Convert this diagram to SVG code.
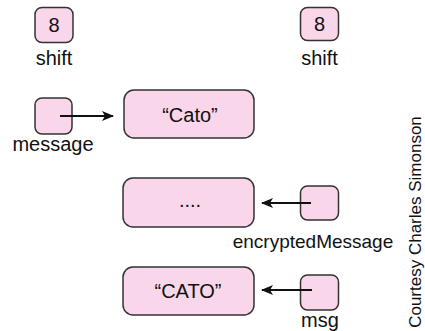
<svg xmlns="http://www.w3.org/2000/svg" width="425" height="331" viewBox="0 0 425 331">
<style>
.box{fill:#f9d6ea;stroke:#333;stroke-width:1.5}
.t{font-family:"Liberation Sans",Arial,sans-serif;font-size:20px;fill:#111;text-anchor:middle}
.c{stroke:#111;stroke-width:2;fill:none}
</style>
<defs>
<marker id="ah" viewBox="0 0 12 10" refX="11" refY="5" markerWidth="12" markerHeight="10" markerUnits="userSpaceOnUse" orient="auto">
<path d="M0,0 L12,5 L0,10 L3,5 Z" fill="#111"/>
</marker>
</defs>
<g id="shift1">
<rect class="box" x="35" y="7.5" width="38" height="35" rx="7"/>
<text class="t" x="54" y="32">8</text>
<text class="t" x="54" y="65">shift</text>
</g>
<g id="shift2">
<rect class="box" x="300.5" y="7.5" width="38" height="33" rx="7"/>
<text class="t" x="319.5" y="31">8</text>
<text class="t" x="319.5" y="65">shift</text>
</g>
<g id="message">
<rect class="box" x="35" y="98" width="37" height="36" rx="7"/>
<text class="t" x="53" y="151">message</text>
</g>
<g id="cato">
<rect class="box" x="124" y="90" width="130" height="48" rx="10"/>
<text class="t" x="190" y="122">“Cato”</text>
</g>
<g id="dots">
<rect class="box" x="123" y="178" width="131" height="49" rx="10"/>
<text class="t" x="190" y="207">....</text>
</g>
<g id="encryptedMessage">
<rect class="box" x="300.5" y="186" width="38" height="34" rx="7"/>
<text class="t" x="313" y="248" style="font-size:19px">encryptedMessage</text>
</g>
<g id="CATO">
<rect class="box" x="123" y="267" width="131" height="48" rx="10"/>
<text class="t" x="188" y="298">“CATO”</text>
</g>
<g id="msg">
<rect class="box" x="300.5" y="275" width="38" height="35" rx="7"/>
<text class="t" x="320" y="327">msg</text>
</g>
<g id="connectors">
<line class="c" x1="60" y1="116" x2="113" y2="116" marker-end="url(#ah)"/>
<line class="c" x1="311" y1="203" x2="262" y2="203" marker-end="url(#ah)"/>
<line class="c" x1="312" y1="290" x2="262" y2="290" marker-end="url(#ah)"/>
</g>
<text transform="translate(421,222) rotate(-90)" style="font-family:'Liberation Sans',Arial,sans-serif;font-size:17px;fill:#111;text-anchor:middle">Courtesy Charles Simonson</text>
</svg>
